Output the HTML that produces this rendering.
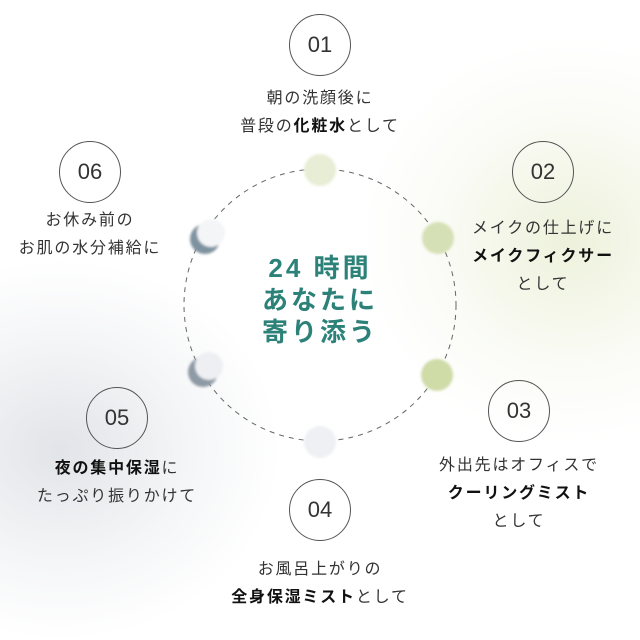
<!DOCTYPE html>
<html><head><meta charset="utf-8"><style>
body{margin:0;width:640px;height:640px;overflow:hidden;background:#fff;position:relative;font-family:"Liberation Sans","Noto Sans CJK JP",sans-serif;color:#333}
.g1{position:absolute;left:360px;top:40px;width:420px;height:400px;border-radius:50%;background:radial-gradient(closest-side,rgba(235,240,215,.9),rgba(245,247,235,.5) 60%,rgba(255,255,255,0));}
.g2{position:absolute;left:-160px;top:260px;width:440px;height:380px;border-radius:50%;background:radial-gradient(closest-side,rgba(220,223,228,.85),rgba(235,237,240,.5) 60%,rgba(255,255,255,0));}
.num{position:absolute;width:62px;height:62px;border:1px solid #555;border-radius:50%;box-sizing:border-box;text-align:center;line-height:60px;font-size:22px;color:#333;background:transparent}
.t{position:absolute;width:300px;text-align:center;font-size:16px;line-height:28px;letter-spacing:1.8px;color:#333;white-space:nowrap}
.t b{font-weight:bold;color:#111}
.center{position:absolute;left:200px;top:252px;width:240px;text-align:center;color:#2c8178;font-weight:bold;font-size:26px;line-height:32px;letter-spacing:3px}
</style></head><body>
<div class="g1"></div><div class="g2"></div>
<svg width="640" height="640" style="position:absolute;left:0;top:0">
<defs><filter id="b"><feGaussianBlur stdDeviation="1.2"/></filter></defs>
<circle cx="320" cy="305" r="136" fill="none" stroke="#666" stroke-width="1" stroke-dasharray="5 5"/>
<g filter="url(#b)">
<circle cx="320" cy="170" r="16" fill="#e8edd5"/>
<circle cx="438" cy="238" r="16" fill="#d6e0b6"/>
<circle cx="437" cy="375" r="16" fill="#cfdca8"/>
<circle cx="320" cy="442" r="16" fill="#eef0f4"/>
<circle cx="205" cy="239" r="15" fill="#7f92a0"/>
<circle cx="211" cy="233" r="14" fill="#f4f5f7"/>
<circle cx="203" cy="372" r="15" fill="#8e9aa5"/>
<circle cx="209" cy="366" r="14" fill="#eeeff2"/>
</g>
</svg>
<div class="num" style="left:289px;top:14px">01</div>
<div class="t" style="left:170px;top:85px">朝の洗顔後に<br>普段の<b>化粧水</b>として</div>
<div class="num" style="left:512px;top:141px">02</div>
<div class="t" style="left:393px;top:215px">メイクの仕上げに<br><b>メイクフィクサー</b><br>として</div>
<div class="num" style="left:488px;top:380px">03</div>
<div class="t" style="left:369px;top:452px">外出先はオフィスで<br><b>クーリングミスト</b><br>として</div>
<div class="num" style="left:289px;top:479px">04</div>
<div class="t" style="left:170px;top:556px">お風呂上がりの<br><b>全身保湿ミスト</b>として</div>
<div class="num" style="left:86px;top:387px">05</div>
<div class="t" style="left:-33px;top:455px"><b>夜の集中保湿</b>に<br>たっぷり振りかけて</div>
<div class="num" style="left:59px;top:141px">06</div>
<div class="t" style="left:-60px;top:207px">お休み前の<br>お肌の水分補給に</div>
<div class="center">24 時間<br>あなたに<br>寄り添う</div>
</body></html>
